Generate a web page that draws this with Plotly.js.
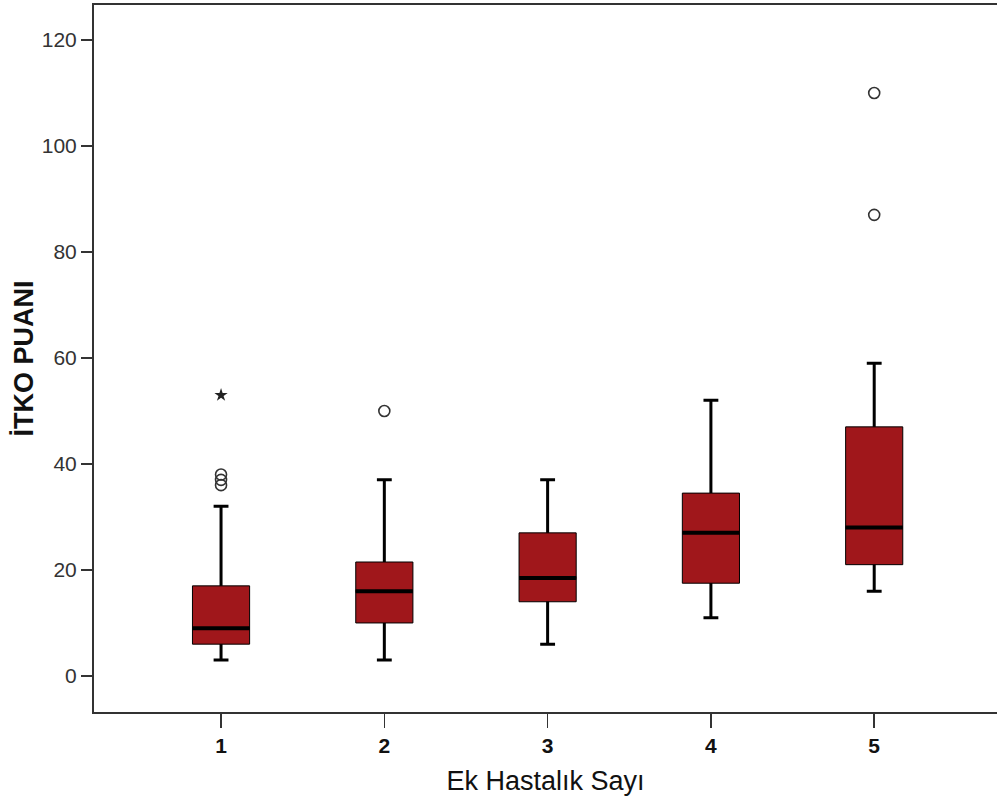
<!DOCTYPE html>
<html>
<head>
<meta charset="utf-8">
<script src="https://cdn.plot.ly/plotly-3.0.1.min.js"></script>
<style>
html, body { margin: 0; padding: 0; background: #fff; overflow: hidden; }
#chart { width: 997px; height: 801px; }
</style>
</head>
<body>
<div id="chart"></div>
<script>
// Data
const categories = [1, 2, 3, 4, 5];
const tickLabels = ["1", "2", "3", "4", "5"];
const lowerWhisker = [3, 3, 6, 11, 16];
const q1 = [6, 10, 14, 17.5, 21];
const median = [9, 16, 18.5, 27, 28];
const q3 = [17, 21.5, 27, 34.5, 47];
const upperWhisker = [32, 37, 37, 52, 59];
const outlierX = [1, 1, 1, 2, 5, 5];
const outlierY = [36, 37, 38, 50, 87, 110];
const extremeX = [1];
const extremeY = [53];
const yTicks = [0, 20, 40, 60, 80, 100, 120];

const boxFill = '#A0171B';
const boxW = 0.35;

const whiskers = {
  type: 'box', x: categories,
  q1: median, median: median, q3: median,
  lowerfence: lowerWhisker, upperfence: upperWhisker,
  width: boxW, whiskerwidth: 0.26,
  line: { color: '#000', width: 3 },
  fillcolor: 'rgba(0,0,0,0)',
  boxpoints: false, hoverinfo: 'skip', showlegend: false
};
const boxes = {
  type: 'box', x: categories,
  q1: q1, median: median, q3: q3,
  lowerfence: q1, upperfence: q3,
  width: boxW, whiskerwidth: 0,
  line: { color: '#000', width: 1 },
  fillcolor: boxFill,
  boxpoints: false, hoverinfo: 'skip', showlegend: false
};
const medians = {
  type: 'box', x: categories,
  q1: median, median: median, q3: median,
  lowerfence: median, upperfence: median,
  width: boxW, whiskerwidth: 0,
  line: { color: '#000', width: 4 },
  fillcolor: 'rgba(0,0,0,0)',
  boxpoints: false, hoverinfo: 'skip', showlegend: false
};
const outliers = {
  type: 'scatter', mode: 'markers', x: outlierX, y: outlierY,
  marker: { symbol: 'circle-open', size: 11, color: '#333', line: { width: 1.6, color: '#333' } },
  hoverinfo: 'skip', showlegend: false
};
const extremes = {
  type: 'scatter', mode: 'markers', x: extremeX, y: extremeY,
  marker: { symbol: 'star', size: 10, color: '#222' },
  hoverinfo: 'skip', showlegend: false
};

const layout = {
  width: 997, height: 801,
  margin: { l: 94, r: 0, t: 5, b: 89 },
  paper_bgcolor: '#fff', plot_bgcolor: '#fff',
  boxmode: 'overlay',
  font: { family: 'Liberation Sans, Arial, sans-serif', color: '#000' },
  xaxis: {
    range: [0.222, 5.752],
    tickmode: 'array', tickvals: categories, ticktext: tickLabels,
    ticks: 'outside', ticklen: 14, tickwidth: 1.5, tickcolor: '#333',
    tickfont: { family: 'Liberation Sans, Arial, sans-serif', size: 21, color: '#111', weight: 'bold' },
    showline: true, linecolor: '#333', linewidth: 2, mirror: true,
    showgrid: false, zeroline: false,
    title: { text: 'Ek Hastalık Sayı', font: { size: 27, color: '#111' }, standoff: 15 }
  },
  yaxis: {
    range: [-6.8, 126.6],
    tickmode: 'array', tickvals: yTicks, ticktext: yTicks.map(String),
    ticks: 'outside', ticklen: 11, tickwidth: 1.5, tickcolor: '#333',
    tickfont: { family: 'Liberation Sans Narrow, Arial Narrow, Liberation Sans, sans-serif', size: 21, color: '#333' },
    showline: true, linecolor: '#333', linewidth: 2, mirror: false,
    showgrid: false, zeroline: false,
    title: { text: 'İTKO PUANI', font: { size: 27, color: '#111', weight: 'bold' }, standoff: 0 }
  }
};

Plotly.newPlot('chart', [whiskers, boxes, medians, outliers, extremes], layout, { staticPlot: true, displayModeBar: false });
</script>
</body>
</html>
